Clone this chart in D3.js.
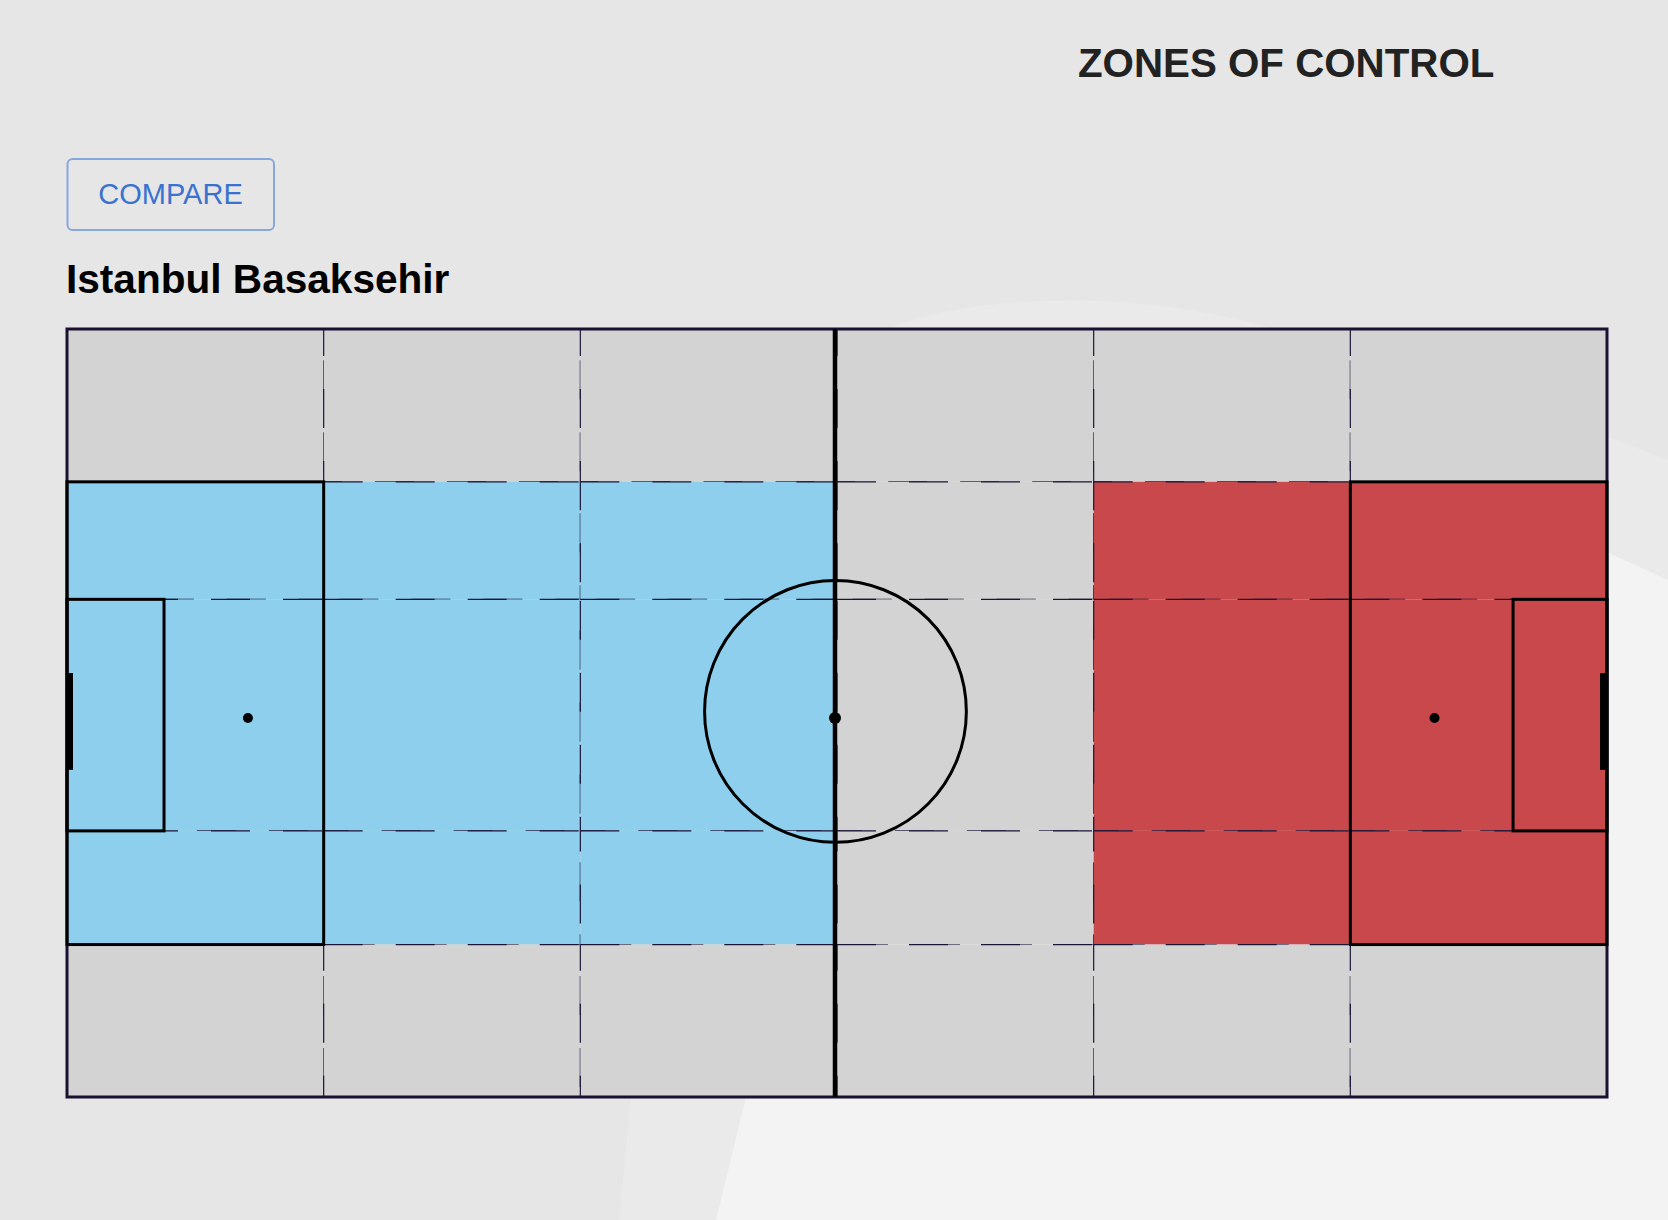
<!DOCTYPE html>
<html>
<head>
<meta charset="utf-8">
<script src="https://cdn.jsdelivr.net/npm/d3@7"></script>
<style>
  html, body { margin: 0; padding: 0; background: #e6e6e6; }
  svg { display: block; }
</style>
</head>
<body>
<svg id="chart" width="1668" height="1220"></svg>
<script>
// ---- data ----
const chartTitle = "ZONES OF CONTROL";
const buttonLabel = "COMPARE";
const teamName = "Istanbul Basaksehir";

// zone grid boundaries in pitch units (0-100)
const columnBounds = [0, 100 / 6, 200 / 6, 50, 400 / 6, 500 / 6, 100];
const rowBounds = [0, 19.9, 35.2, 65.35, 80.15, 100];

// who controls each zone (rows top→bottom, columns left→right)
const zoneRow0 = ["none", "none", "none", "none", "none", "none"];
const zoneRow1 = ["home", "home", "home", "none", "away", "away"];
const zoneRow2 = ["home", "home", "home", "none", "away", "away"];
const zoneRow3 = ["home", "home", "home", "none", "away", "away"];
const zoneRow4 = ["none", "none", "none", "none", "none", "none"];
const zoneControl = [zoneRow0, zoneRow1, zoneRow2, zoneRow3, zoneRow4];

const controlKeys = ["home", "away", "none"];
const controlColors = ["#8dcfed", "#c9484b", "#d3d3d3"];

// ---- drawing ----
const svg = d3.select("#chart");
const W = 1668, H = 1220;

// background
svg.append("rect").attr("width", W).attr("height", H).attr("fill", "#e6e6e6");
svg.append("path")
  .attr("d", "M 619 1220 L 635 1060 C 680 700 760 380 897 325 C 980 296 1130 288 1267 327 C 1400 365 1520 420 1609 437 L 1668 460 L 1668 1220 Z")
  .attr("fill", "#eaeaea");
svg.append("path")
  .attr("d", "M 716 1220 L 746 1097 C 800 800 1000 650 1250 600 C 1400 570 1520 545 1609 553 L 1668 580 L 1668 1220 Z")
  .attr("fill", "#f3f3f3");

// header texts
svg.append("text")
  .attr("x", 1078).attr("y", 77)
  .attr("font-family", "'Liberation Sans', Arial, Helvetica, sans-serif")
  .attr("font-weight", "bold").attr("font-size", 40.3)
  .attr("fill", "#222222")
  .text(chartTitle);

const btn = svg.append("g");
btn.append("rect")
  .attr("x", 67.5).attr("y", 159).attr("width", 206.5).attr("height", 71)
  .attr("rx", 5).attr("fill", "none")
  .attr("stroke", "#87a8df").attr("stroke-width", 2);
btn.append("text")
  .attr("x", 170.5).attr("y", 204)
  .attr("text-anchor", "middle")
  .attr("font-family", "'Liberation Sans', Arial, Helvetica, sans-serif")
  .attr("font-size", 29)
  .attr("fill", "#3a72d0")
  .text(buttonLabel);

svg.append("text")
  .attr("x", 66).attr("y", 293)
  .attr("font-family", "'Liberation Sans', Arial, Helvetica, sans-serif")
  .attr("font-weight", "bold").attr("font-size", 40.6)
  .attr("fill", "#000000")
  .text(teamName);

// pitch scales
const x = d3.scaleLinear().domain([0, 100]).range([67, 1607]);
const y = d3.scaleLinear().domain([0, 100]).range([329, 1097]);
const color = d3.scaleOrdinal().domain(controlKeys).range(controlColors);

// zone cells
const cells = [];
zoneControl.forEach((row, r) => {
  row.forEach((owner, c) => {
    cells.push({ r, c, owner,
      x0: columnBounds[c], x1: columnBounds[c + 1],
      y0: rowBounds[r], y1: rowBounds[r + 1] });
  });
});

const pitch = svg.append("g");
pitch.selectAll("rect.zone")
  .data(cells)
  .join("rect")
  .attr("class", "zone")
  .attr("x", d => x(d.x0))
  .attr("y", d => y(d.y0))
  .attr("width", d => x(d.x1) - x(d.x0))
  .attr("height", d => y(d.y1) - y(d.y0))
  .attr("fill", d => color(d.owner))
  .attr("stroke", "#1c1538")
  .attr("stroke-width", 1.2)
  .attr("stroke-dasharray", "39,33");

// pitch outline
pitch.append("rect")
  .attr("x", x(0)).attr("y", y(0))
  .attr("width", x(100) - x(0)).attr("height", y(100) - y(0))
  .attr("fill", "none").attr("stroke", "#1b1030").attr("stroke-width", 3);

const lineCol = "#000000";
const mark = pitch.append("g").attr("fill", "none").attr("stroke", lineCol).attr("stroke-width", 3);

// halfway line
mark.append("line")
  .attr("x1", x(49.87)).attr("x2", x(49.87))
  .attr("y1", y(0)).attr("y2", y(100))
  .attr("stroke-width", 4.5);

// penalty boxes
mark.append("rect")
  .attr("x", x(0)).attr("y", y(19.9))
  .attr("width", x(100 / 6) - x(0)).attr("height", y(80.15) - y(19.9));
mark.append("rect")
  .attr("x", x(500 / 6)).attr("y", y(19.9))
  .attr("width", x(100) - x(500 / 6)).attr("height", y(80.15) - y(19.9));

// six-yard boxes
mark.append("rect")
  .attr("x", x(0)).attr("y", y(35.2))
  .attr("width", x(6.3) - x(0)).attr("height", y(65.35) - y(35.2));
mark.append("rect")
  .attr("x", x(93.9)).attr("y", y(35.2))
  .attr("width", x(100) - x(93.9)).attr("height", y(65.35) - y(35.2));

// centre circle
mark.append("circle")
  .attr("cx", x(49.9)).attr("cy", y(49.8))
  .attr("r", x(8.5) - x(0));

// spots
const spots = pitch.append("g").attr("fill", lineCol);
spots.append("circle").attr("cx", x(49.87)).attr("cy", y(50.65)).attr("r", 6);
spots.append("circle").attr("cx", x(11.75)).attr("cy", y(50.65)).attr("r", 5);
spots.append("circle").attr("cx", x(88.8)).attr("cy", y(50.65)).attr("r", 5);

// goals
spots.append("rect")
  .attr("x", x(0)).attr("y", y(44.8))
  .attr("width", 6).attr("height", y(57.4) - y(44.8));
spots.append("rect")
  .attr("x", x(100) - 7).attr("y", y(44.8))
  .attr("width", 7).attr("height", y(57.4) - y(44.8));
</script>
</body>
</html>
